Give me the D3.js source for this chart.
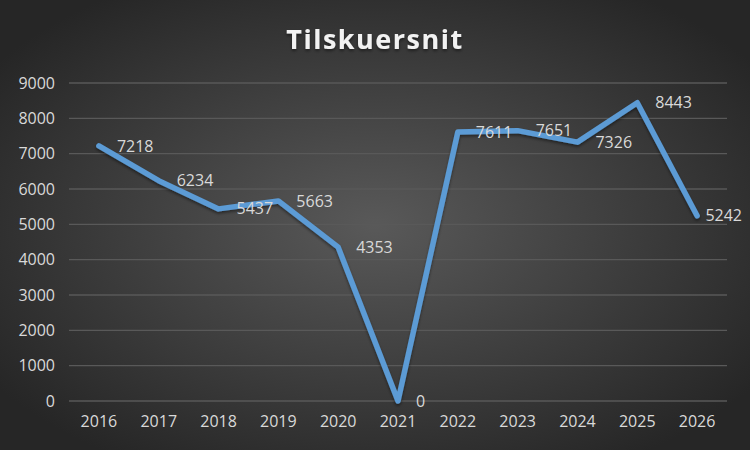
<!DOCTYPE html>
<html>
<head>
<meta charset="utf-8">
<script src="https://cdn.jsdelivr.net/npm/d3@7"></script>
<style>
  html, body { margin: 0; padding: 0; background: #262626; }
  svg { display: block; }
</style>
</head>
<body>
<div id="chart"></div>
<script>
const years = ["2016", "2017", "2018", "2019", "2020", "2021", "2022", "2023", "2024", "2025", "2026"];
const attendance = [7218, 6234, 5437, 5663, 4353, 0, 7611, 7651, 7326, 8443, 5242];
const yTicks = [0, 1000, 2000, 3000, 4000, 5000, 6000, 7000, 8000, 9000];

const width = 750, height = 450;
const margin = { top: 83, right: 23, bottom: 49, left: 69 };

const svg = d3.select("#chart").append("svg")
  .attr("width", width)
  .attr("height", height);

// background
const defs = svg.append("defs");
const grad = defs.append("radialGradient")
  .attr("id", "bg")
  .attr("cx", "50%").attr("cy", "50%").attr("r", "62%");
grad.append("stop").attr("offset", "0%").attr("stop-color", "#595959");
grad.append("stop").attr("offset", "100%").attr("stop-color", "#262626");

const shadow = defs.append("filter").attr("id", "shadow")
  .attr("x", "-10%").attr("y", "-10%").attr("width", "120%").attr("height", "130%");
shadow.append("feDropShadow")
  .attr("dx", 0).attr("dy", 2).attr("stdDeviation", 1.5)
  .attr("flood-color", "#000").attr("flood-opacity", 0.45);

svg.append("rect")
  .attr("width", width).attr("height", height)
  .attr("fill", "url(#bg)");

// scales
const x = d3.scaleBand()
  .domain(years)
  .range([margin.left, width - margin.right]);

const y = d3.scaleLinear()
  .domain([0, 9000])
  .range([height - margin.bottom, margin.top]);

// gridlines
svg.append("g")
  .selectAll("line")
  .data(yTicks)
  .join("line")
  .attr("x1", margin.left)
  .attr("x2", width - margin.right)
  .attr("y1", d => y(d))
  .attr("y2", d => y(d))
  .attr("stroke", "#595959")
  .attr("stroke-width", 1.3);

// y axis
const yAxis = svg.append("g")
  .attr("transform", "translate(" + margin.left + ",0)")
  .call(d3.axisLeft(y).tickValues(yTicks).tickFormat(d3.format("d")).tickSize(0).tickPadding(14));
yAxis.select(".domain").remove();
yAxis.selectAll("text")
  .attr("fill", "#d9d9d9")
  .style("font-family", "'Open Sans', sans-serif")
  .style("font-size", "16px");

// x axis
const xAxis = svg.append("g")
  .attr("transform", "translate(0," + y(0) + ")")
  .call(d3.axisBottom(x).tickSize(0).tickPadding(15));
xAxis.select(".domain").remove();
xAxis.selectAll("text")
  .attr("fill", "#d9d9d9")
  .style("font-family", "'Open Sans', sans-serif")
  .style("font-size", "16px");

// line
const line = d3.line()
  .x((d, i) => x(years[i]) + x.bandwidth() / 2)
  .y(d => y(d));

svg.append("path")
  .datum(attendance)
  .attr("d", line)
  .attr("fill", "none")
  .attr("stroke", "#5b9bd5")
  .attr("stroke-width", 5.5)
  .attr("stroke-linejoin", "round")
  .attr("stroke-linecap", "round")
  .attr("filter", "url(#shadow)");

// data labels (kept inside the chart like Excel does)
svg.append("g")
  .selectAll("text")
  .data(attendance)
  .join("text")
  .attr("y", d => y(d))
  .attr("dy", "0.35em")
  .attr("fill", "#d9d9d9")
  .style("font-family", "'Open Sans', sans-serif")
  .style("font-size", "16px")
  .text(d => d)
  .attr("x", function (d, i) {
    const px = x(years[i]) + x.bandwidth() / 2 + 18;
    const w = this.getComputedTextLength();
    return Math.min(px, width - 8 - w);
  });

// title
svg.append("text")
  .attr("x", width / 2)
  .attr("y", 49)
  .attr("text-anchor", "middle")
  .attr("fill", "#f2f2f2")
  .attr("filter", "url(#shadow)")
  .style("font-family", "'Open Sans', sans-serif")
  .style("font-weight", "bold")
  .style("font-size", "27px")
  .style("letter-spacing", "1.5px")
  .text("Tilskuersnit");
</script>
</body>
</html>
